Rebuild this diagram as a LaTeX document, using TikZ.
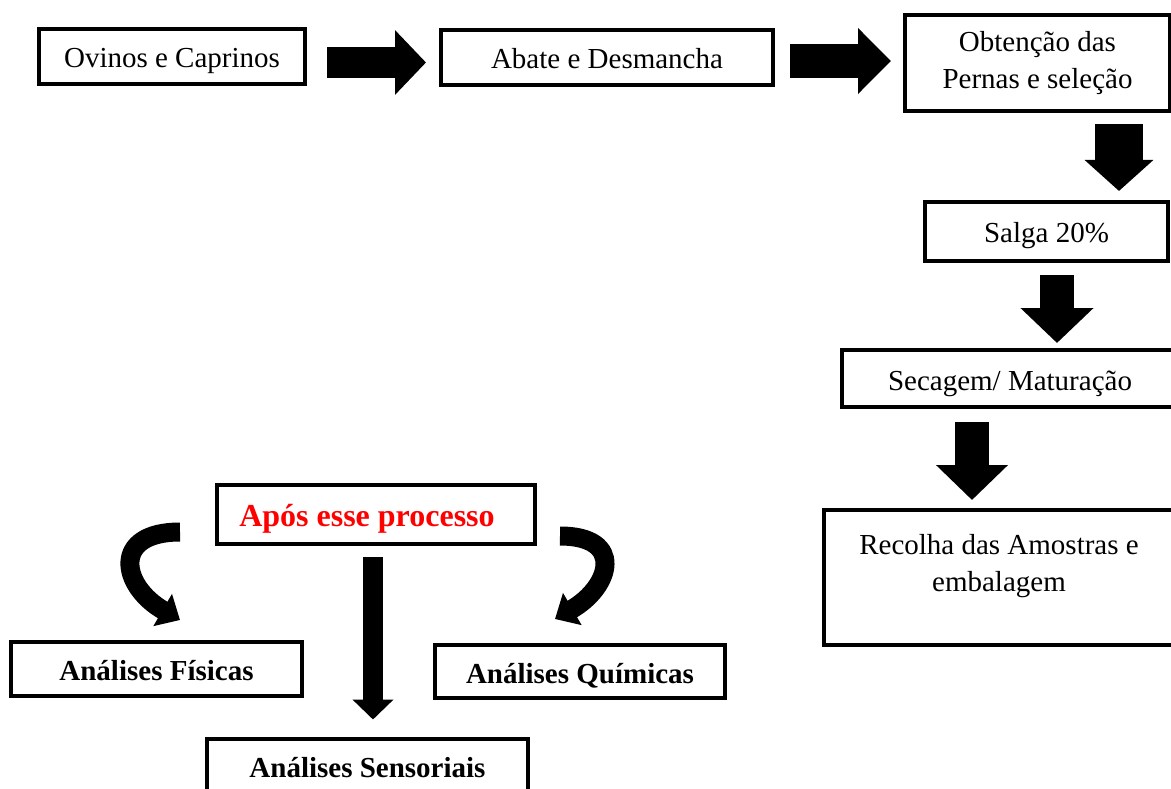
\documentclass[tikz,border=0pt]{standalone}
\usepackage{fontspec}
\setmainfont{Liberation Serif}
\usetikzlibrary{arrows.meta}

\tikzset{
    etapa/.style = {draw, line width=4pt, rectangle, inner sep=0pt, align=center, font=\fontsize{29}{37}\selectfont},
    linha/.style = {etapa, text height=23pt, text depth=0pt},
    analise/.style = {linha, font=\fontsize{29}{37}\selectfont\bfseries},
    bloco/.style n args = {3}{line width=#1, -{Triangle[width=#2, length=#3]}},
    curva/.style = {line width=19pt, -{Triangle[width=36pt, length=20pt]}, looseness=2}
}

\begin{document}
\begin{tikzpicture}[x=1pt, y=-1pt]
    \useasboundingbox (0, 0) rectangle (1171, 789);
    \node[linha, minimum width=266pt, minimum height=55pt] (ovinos) at (172, 56.5) {Ovinos e Caprinos};
    \node[linha, minimum width=332pt, minimum height=55pt] (abate) at (607, 57.5) {Abate e Desmancha};
    \node[etapa, minimum width=265pt, minimum height=96pt] (obtencao) at (1037.5, 63) {Obtenção das\\Pernas e seleção};
    \node[linha, minimum width=243pt, minimum height=59pt] (salga) at (1046.5, 231.5) {Salga 20\%};
    \node[linha, minimum width=336pt, minimum height=57pt] (secagem) at (1010, 378.5) {Secagem/ Maturação};
    \node[etapa, minimum width=350pt, minimum height=135pt] (recolha) at (999, 577.5) {Recolha das Amostras e\\embalagem\\[-8pt]\mbox{}};
    \node[analise, text=red, font=\fontsize{32}{37}\selectfont\bfseries, minimum width=318pt, minimum height=59pt] (apos) at (376, 514.5) {Após esse processo\hspace{18pt}};
    \node[analise, minimum width=291pt, minimum height=54pt] (fisicas) at (156.5, 669) {Análises Físicas};
    \node[analise, minimum width=290pt, minimum height=53pt] (quimicas) at (580, 671.5) {Análises Químicas};
    \node[analise, minimum width=321pt, minimum height=55pt] (sensoriais) at (367.5, 766) {Análises Sensoriais};

    \draw[bloco={31pt}{63pt}{31pt}] ([xshift=20pt, yshift=-6pt]ovinos.east) -- ([xshift=-13pt, yshift=-5pt]abate.west);
    \draw[bloco={34pt}{64pt}{33pt}] ([xshift=15pt, yshift=-3.5pt]abate.east) -- ([xshift=-12pt, yshift=2pt]obtencao.west);
    \draw[bloco={48pt}{67pt}{31pt}] ([xshift=81.5pt, yshift=-11pt]obtencao.south) -- ([xshift=72.5pt, yshift=9pt]salga.north);
    \draw[bloco={34pt}{71pt}{35pt}] ([xshift=10.5pt, yshift=-12pt]salga.south) -- ([xshift=47pt, yshift=5pt]secagem.north);
    \draw[bloco={34pt}{70pt}{35pt}] ([xshift=-38pt, yshift=-13pt]secagem.south) -- ([xshift=-27pt, yshift=8pt]recolha.north);
    \draw[bloco={20pt}{40pt}{20pt}] ([xshift=-3pt, yshift=-11pt]apos.south) -- ([xshift=5.5pt, yshift=17pt]sensoriais.north);
    \draw[curva] ([xshift=-35pt, yshift=-17.5pt]apos.west) to[out=180, in=150] ([xshift=23.5pt, yshift=20pt]fisicas.north);
    \draw[curva] ([xshift=23pt, yshift=-21.5pt]apos.east) to[out=0, in=30] ([xshift=-25pt, yshift=24pt]quimicas.north);
\end{tikzpicture}
\end{document}
